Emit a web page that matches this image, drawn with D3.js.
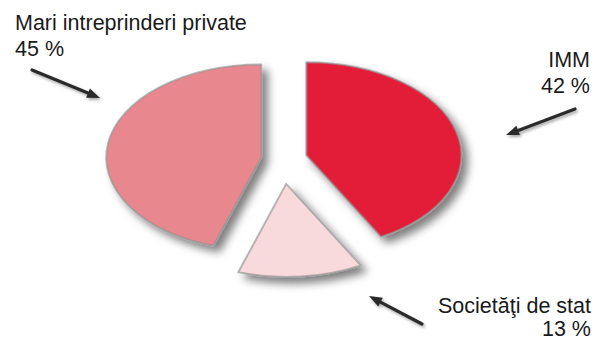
<!DOCTYPE html>
<html>
<head>
<meta charset="utf-8">
<script src="https://cdn.jsdelivr.net/npm/d3@7"></script>
<style>
  html, body { margin: 0; padding: 0; background: #fff; }
  svg { display: block; }
  text { font-family: "Liberation Sans", Arial, Helvetica, sans-serif; fill: #1a1a1a; }
</style>
</head>
<body>
<svg id="chart" width="595" height="343"></svg>
<script>
// Ownership structure shares (%), drawn clockwise from 12 o'clock
const categories = ["IMM", "Societăţi de stat", "Mari intreprinderi private"];
const values = [42, 13, 45];
const valueLabels = ["42 %", "13 %", "45 %"];
const colors = ["#e31b38", "#f8d9dc", "#e8878d"];

const W = 595, H = 343;
const cx = 284, cy = 161;      // pie centre
const rx = 155, ry = 93;       // elliptical (tilted) pie radii
const explode = 23;            // slice offset from centre

const svg = d3.select("#chart");
const defs = svg.append("defs");

const shadow = defs.append("filter").attr("id", "shadow")
  .attr("x", "-20%").attr("y", "-20%").attr("width", "140%").attr("height", "140%");
shadow.append("feDropShadow")
  .attr("dx", 6).attr("dy", 6).attr("stdDeviation", 4.5)
  .attr("flood-color", "#000").attr("flood-opacity", 0.5);

const arrowFx = defs.append("filter").attr("id", "arrowFx")
  .attr("x", "-30%").attr("y", "-60%").attr("width", "160%").attr("height", "220%");
arrowFx.append("feGaussianBlur").attr("in", "SourceGraphic").attr("stdDeviation", 0.7).attr("result", "b");
arrowFx.append("feDropShadow").attr("in", "b")
  .attr("dx", 1.5).attr("dy", 2).attr("stdDeviation", 1.6)
  .attr("flood-color", "#000").attr("flood-opacity", 0.35);

const pie = d3.pie().sort(null).value(d => d)(values);
const arc = d3.arc().innerRadius(0).outerRadius(rx);

pie.forEach((p, i) => {
  const mid = (p.startAngle + p.endAngle) / 2;
  const dx = Math.sin(mid) * explode;
  const dy = -Math.cos(mid) * explode;
  const wrap = svg.append("g").attr("filter", "url(#shadow)");
  wrap.append("path")
    .attr("transform", `translate(${cx + dx},${cy + dy}) scale(1,${ry / rx})`)
    .attr("d", arc(p))
    .attr("fill", colors[i])
    .attr("stroke", "#949494")
    .attr("stroke-opacity", 0.65)
    .attr("stroke-width", 2)
    .attr("vector-effect", "non-scaling-stroke")
    .attr("stroke-linejoin", "round");
});

// Callout arrows: [from, to]
const arrows = [
  [[575, 109], [506, 135]],
  [[422, 324], [369, 296]],
  [[32, 70], [100, 98]]
];

arrows.forEach(([a, b]) => {
  const ang = Math.atan2(b[1] - a[1], b[0] - a[0]);
  const len = 13, half = 5;
  const base = [b[0] - Math.cos(ang) * len, b[1] - Math.sin(ang) * len];
  const nx = -Math.sin(ang), ny = Math.cos(ang);
  const g = svg.append("g").attr("filter", "url(#arrowFx)");
  g.append("line")
    .attr("x1", a[0]).attr("y1", a[1])
    .attr("x2", base[0]).attr("y2", base[1])
    .attr("stroke", "#2b2b2b").attr("stroke-width", 3.2).attr("stroke-linecap", "round");
  g.append("path")
    .attr("d", d3.line()([
      b,
      [base[0] + nx * half, base[1] + ny * half],
      [base[0] - nx * half, base[1] - ny * half]
    ]) + "Z")
    .attr("fill", "#2b2b2b");
});

// Category labels with their shares
const labels = [
  { x: 590, y: 67, anchor: "end", gap: 25.5 },
  { x: 591, y: 313, anchor: "end", gap: 23 },
  { x: 15, y: 30, anchor: "start", gap: 25.5 }
];

labels.forEach((l, i) => {
  const t = svg.append("text")
    .attr("x", l.x).attr("y", l.y)
    .attr("text-anchor", l.anchor)
    .attr("font-size", 21.5);
  t.append("tspan").attr("x", l.x).text(categories[i]);
  t.append("tspan").attr("x", l.x).attr("dy", l.gap).text(valueLabels[i]);
});
</script>
</body>
</html>
